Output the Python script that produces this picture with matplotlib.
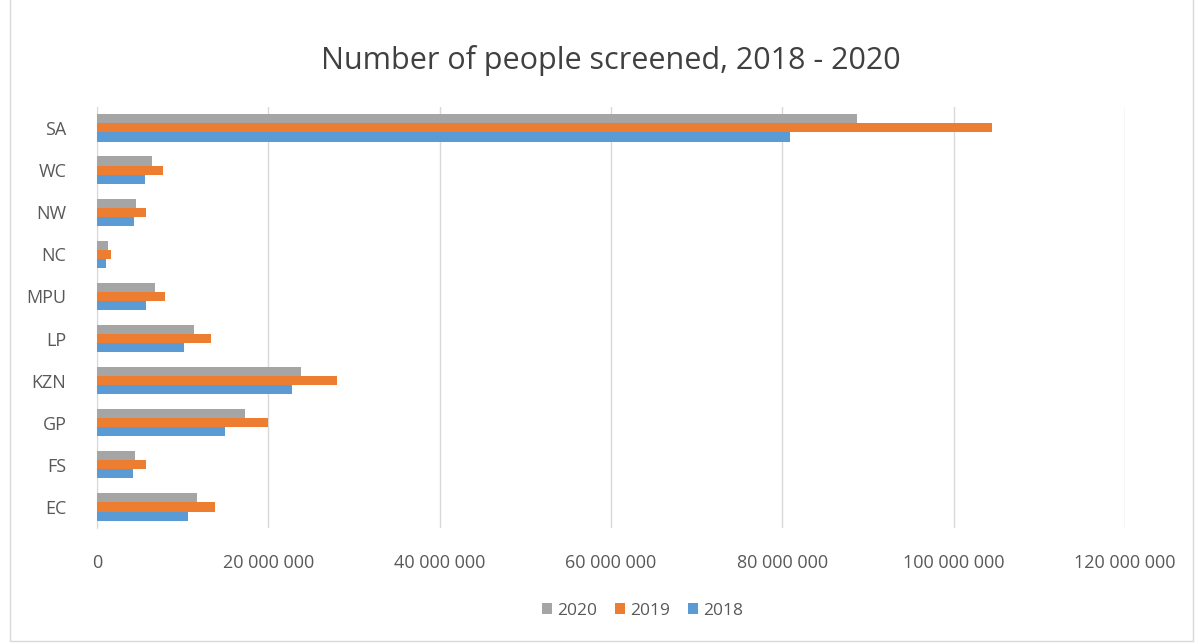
import numpy as np
import matplotlib.pyplot as plt
from matplotlib.ticker import FuncFormatter
from matplotlib.patches import Rectangle

plt.rcParams['font.family'] = ['Open Sans', 'DejaVu Sans']

regions = ["EC", "FS", "GP", "KZN", "LP", "MPU", "NC", "NW", "WC", "SA"]
# values, in millions
v2020 = [11.7, 4.4, 17.3, 23.8, 11.3, 6.8, 1.3, 4.6, 6.4, 88.7]
v2019 = [13.8, 5.7, 20.0, 28.0, 13.3, 7.9, 1.6, 5.7, 7.7, 104.5]
v2018 = [10.6, 4.2, 14.9, 22.8, 10.2, 5.7, 1.1, 4.3, 5.6, 80.9]
xticks = [0, 20, 40, 60, 80, 100, 120]

fig = plt.figure(figsize=(12.01, 6.44), dpi=100)
fig.patches.append(Rectangle((0.008, 0.005), 0.985, 1.2, transform=fig.transFigure,
                             fill=False, edgecolor="#d9d9d9", linewidth=1))
ax = fig.add_axes([0.0808, 0.180, 0.856, 0.654])

y = np.arange(len(regions))
h = 0.215
ax.barh(y + h, np.array(v2020) * 1e6, height=h, color="#a5a5a5", label="2020", zorder=3)
ax.barh(y, np.array(v2019) * 1e6, height=h, color="#ed7d31", label="2019", zorder=3)
ax.barh(y - h, np.array(v2018) * 1e6, height=h, color="#5b9bd5", label="2018", zorder=3)

ax.set_xlim(0, 120e6)
ax.set_ylim(-0.5, len(regions) - 0.5)
ax.set_yticks(y)
ax.set_yticklabels(regions)
ax.set_xticks([t * 1e6 for t in xticks])
ax.xaxis.set_major_formatter(FuncFormatter(lambda v, p: f"{int(v):,}".replace(",", " ")))
ax.tick_params(length=0, labelsize=13, colors="#595959", pad=22)
ax.tick_params(axis="x", pad=19)
ax.grid(axis="x", color="#d9d9d9", linewidth=1, zorder=0)
for s in ["top", "right", "bottom"]:
    ax.spines[s].set_visible(False)
ax.spines["left"].set_color("#d9d9d9")

ax.set_title("Number of people screened, 2018 - 2020", fontsize=22, color="#404040", pad=27)

handles, labels = ax.get_legend_handles_labels()
fig.legend(handles, labels, loc="center", bbox_to_anchor=(0.535, 0.052), ncol=3, frameon=False,
           fontsize=12.5, labelcolor="#595959", handlelength=0.6, handleheight=0.6,
           handletextpad=0.3, columnspacing=1.0)

fig.savefig("out.png", dpi=100)
